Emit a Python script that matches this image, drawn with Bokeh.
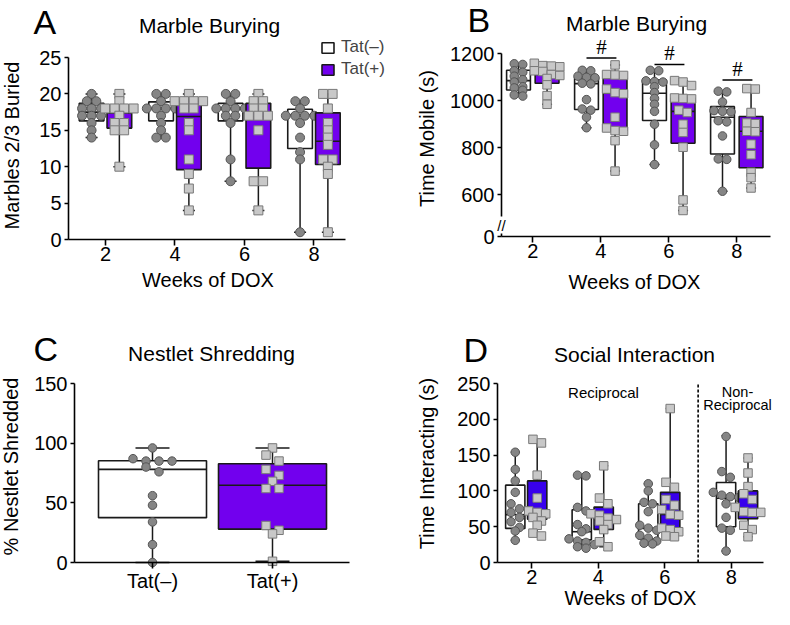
import math
from bokeh.plotting import figure
from bokeh.models import Range1d, FixedTicker, Legend, LegendItem, Label
from bokeh.layouts import row, column
from bokeh.embed import file_html
from bokeh.resources import INLINE

FONT = "Liberation Sans"

# ---------------- data ----------------
weeks = ["2", "4", "6", "8"]
genotypes = ["Tat(–)", "Tat(+)"]

# box stats: [min, Q1, median, Q3, max]
# Panel A: Marble burying, marbles 2/3 buried
A_neg_stats = [[14, 16.3, 17.5, 18.7, 20], [14, 16.3, 18.0, 18.9, 20],
               [8, 16.3, 18.0, 18.7, 20], [1, 12.5, 17.1, 17.9, 19]]
A_pos_stats = [[10, 15.3, 17.4, 17.5, 20], [4, 9.6, 16.9, 19.0, 20],
               [4, 9.8, 16.9, 18.7, 20], [1, 10.3, 13.5, 17.4, 20]]
A_neg_pts = [[20, 19, 19, 18, 18, 18, 17, 17, 17, 16, 15, 14],
             [20, 20, 19, 18, 18, 18, 18, 17, 16, 15, 14, 14],
             [20, 20, 19, 18, 18, 18, 18, 17, 17, 16, 11, 8],
             [19, 19, 18, 17, 17, 17, 17, 16, 14, 12, 11, 1]]
A_pos_pts = [[20, 19, 18, 18, 18, 18, 17, 16, 16, 15, 15, 10],
             [20, 19, 19, 19, 19, 18, 18, 16, 15, 11, 9, 7, 4],
             [20, 19, 19, 18, 18, 17, 17, 17, 15, 8, 8, 4],
             [20, 20, 18, 16, 15, 14, 13, 11, 11, 10, 9, 1]]

# Panel B: Marble burying, time mobile (s)
B_neg_stats = [[1020, 1046, 1086, 1130, 1158], [885, 963, 1073, 1100, 1130],
               [728, 916, 1032, 1089, 1130], [614, 773, 930, 975, 1040]]
B_pos_stats = [[985, 1075, 1112, 1140, 1160], [700, 873, 1032, 1096, 1153],
               [532, 819, 955, 1012, 1085], [628, 714, 870, 933, 1051]]
B_neg_pts = [[1158, 1155, 1128, 1122, 1105, 1090, 1080, 1060, 1055, 1045, 1025, 1020],
             [1130, 1128, 1105, 1100, 1098, 1075, 1072, 1005, 965, 960, 930, 885],
             [1130, 1128, 1085, 1082, 1080, 1060, 1035, 1010, 985, 955, 900, 812, 728],
             [1041, 1038, 995, 958, 955, 953, 915, 910, 850, 752, 750, 614]]
B_pos_pts = [[1160, 1150, 1148, 1145, 1128, 1125, 1112, 1108, 1095, 1068, 1022, 985],
             [1153, 1112, 1110, 1108, 1050, 1035, 1030, 930, 884, 873, 870, 830, 700],
             [1086, 1080, 1065, 1012, 1010, 1008, 960, 950, 900, 865, 802, 577, 532],
             [1052, 1050, 950, 905, 902, 870, 868, 815, 770, 695, 672, 628]]
B_sig_weeks = [1, 2, 3]          # indices of weeks 4, 6, 8
B_sig_y = [1183, 1155, 1089]

# Panel C: Nestlet shredding (%)
C_stats = [[0, 37.6, 78.0, 85.3, 96], [1, 28.0, 64.7, 82.8, 96]]
C_neg_pts = [96, 87, 85, 85, 85, 80, 76, 56, 48, 34, 15, 0]
C_pos_pts = [96, 90, 85, 78, 73, 68, 62, 62, 31, 27, 24, 1]

# Panel D: Social interaction, time interacting (s)
D_neg_stats = [[31, 47.6, 66.8, 108, 154], [20, 31.6, 43, 73.7, 121],
               [26, 33, 47.6, 82, 110], [16, 50, 89.7, 111.7, 177]]
D_pos_stats = [[37, 60.4, 67, 114, 170], [22, 46.2, 59, 77.4, 135],
               [36, 46.7, 67, 98, 215], [36, 61, 73, 100, 146]]
D_neg_pts = [[154, 130, 114, 98, 82, 75, 70, 63, 57, 49, 44, 31],
             [122, 121, 77, 72, 53, 47, 43, 33, 30, 28, 25, 22, 20],
             [110, 100, 84, 82, 71, 52, 48, 45, 38, 34, 30, 27, 26],
             [176, 127, 119, 98, 94, 92, 91, 82, 63, 48, 45, 16]]
D_pos_pts = [[172, 167, 122, 90, 72, 70, 68, 63, 58, 52, 41, 37],
             [135, 90, 82, 68, 66, 62, 60, 58, 53, 46, 29, 22],
             [215, 112, 105, 88, 80, 74, 67, 66, 48, 46, 43, 37, 36],
             [146, 125, 106, 96, 88, 77, 71, 70, 70, 52, 46, 36]]
D_divider = 2.5   # between reciprocal (2-6 wk) and non-reciprocal (8 wk)

# ---------------- style ----------------
PURPLE = "#7200EE"
BLUE = "#3800EC"
CIRC_FILL, CIRC_LINE = "#858585", "#555555"
SQ_FILL, SQ_LINE = "#C8C8C8", "#787878"
BOX_LINE = "#1a1a1a"


def spread(vals, yppu, xppu, spacing_px, thresh_px):
    """Horizontal offsets (data units) so that overlapping points sit side by side."""
    order = sorted(range(len(vals)), key=lambda i: -vals[i])
    rows = []
    for i in order:
        if rows and (vals[rows[-1][0]] - vals[i]) * yppu < thresh_px:
            rows[-1].append(i)
        else:
            rows.append([i])
    offs = [0.0] * len(vals)
    for r in rows:
        n = len(r)
        for k, i in enumerate(r):
            offs[i] = (k - (n - 1) / 2) * spacing_px / xppu
    return offs


def panel(PL, PT, W, H, OX, OY, xo, yo, xppu, yppu, xb, yb, xticks, xlabels, yticks, yover=None):
    """Frame covers the whole figure; axes are pinned at (xo, yo) with fixed_location."""
    xr = Range1d(xo - (OX - PL) / xppu, xo + (PL + W - OX) / xppu)
    yr = Range1d(yo - (PT + H - OY) / yppu, yo + (OY - PT) / yppu)
    p = figure(width=W, height=H, title=None, output_backend="svg", toolbar_location=None,
               x_range=xr, y_range=yr, min_border=0)
    p.outline_line_color = None
    p.xgrid.visible = False
    p.ygrid.visible = False
    p.xaxis.fixed_location = yo
    p.yaxis.fixed_location = xo
    for ax, ticks, b in ((p.xaxis[0], xticks, xb), (p.yaxis[0], yticks, yb)):
        ax.ticker = FixedTicker(ticks=ticks)
        ax.bounds = b
        ax.axis_line_width = 1.6
        ax.axis_line_color = "black"
        ax.major_tick_line_width = 1.6
        ax.major_tick_line_color = "black"
        ax.minor_tick_line_color = None
        ax.major_tick_in = 0
        ax.major_label_text_font = FONT
        ax.major_label_text_font_size = "20px"
        ax.major_label_text_color = "black"
    p.xaxis.major_tick_out = 6
    p.xaxis.major_label_standoff = 1
    p.yaxis.major_tick_out = 4
    p.yaxis.major_label_standoff = 3
    p.xaxis.major_label_overrides = {t: l for t, l in zip(xticks, xlabels)}
    if yover:
        p.yaxis.major_label_overrides = yover
    return p


def draw_boxes(p, centers, stats, pts, width, cap_px, fill, marker, mfill, mline,
               msize, xppu, yppu, spacing_px, thresh_px):
    lo = [s[0] for s in stats]
    q1 = [s[1] for s in stats]
    med = [s[2] for s in stats]
    q3 = [s[3] for s in stats]
    hi = [s[4] for s in stats]
    cw = cap_px / xppu
    p.segment(x0=centers, y0=lo, x1=centers, y1=q1, line_color=BOX_LINE, line_width=1.5)
    p.segment(x0=centers, y0=q3, x1=centers, y1=hi, line_color=BOX_LINE, line_width=1.5)
    p.segment(x0=[c - cw / 2 for c in centers], y0=lo, x1=[c + cw / 2 for c in centers], y1=lo,
              line_color=BOX_LINE, line_width=1.5)
    p.segment(x0=[c - cw / 2 for c in centers], y0=hi, x1=[c + cw / 2 for c in centers], y1=hi,
              line_color=BOX_LINE, line_width=1.5)
    r = p.vbar(x=centers, width=width, bottom=q1, top=q3, fill_color=fill,
               line_color=BOX_LINE, line_width=1.6)
    p.segment(x0=[c - width / 2 for c in centers], y0=med, x1=[c + width / 2 for c in centers],
              y1=med, line_color=BOX_LINE, line_width=1.6)
    xs, ys = [], []
    for c, vals in zip(centers, pts):
        offs = spread(vals, yppu, xppu, spacing_px, thresh_px)
        xs += [c + o for o in offs]
        ys += list(vals)
    p.scatter(x=xs, y=ys, marker=marker, size=msize, fill_color=mfill, line_color=mline,
              line_width=1)
    return r


def lbl(p, sx, sy, text, size, align="center", rotated=False):
    """Text label; (sx, sy) = wanted baseline point, in px from the figure's bottom-left."""
    corr = 0.4 * size if size < 30 else 0.3 * size   # observed baseline offset of the renderer
    if rotated:
        sx, ang = sx - corr, math.pi / 2
    else:
        sy, ang = sy + corr, 0.0
    p.add_layout(Label(x=sx, y=sy, x_units="screen", y_units="screen", text=text,
                       text_font=FONT, text_font_size=f"{size}px", text_align=align,
                       text_baseline="alphabetic", angle=ang, text_color="black"))


idx = list(range(len(weeks)))

# ---------------- Panel A ----------------
A_xppu, A_yppu = 69.5, 7.28
pA = panel(0, 0, 395, 300, 68, 239, -0.532, 0, A_xppu, A_yppu, (-0.532, 3.454), (0, 25),
           idx, weeks, [0, 5, 10, 15, 20, 25])
rA_neg = draw_boxes(pA, [i - 0.2 for i in idx], A_neg_stats, A_neg_pts, 0.355, 12, "white",
                    "circle", CIRC_FILL, CIRC_LINE, 9, A_xppu, A_yppu, 9.5, 6)
rA_pos = draw_boxes(pA, [i + 0.2 for i in idx], A_pos_stats, A_pos_pts, 0.355, 12, PURPLE,
                    "square", SQ_FILL, SQ_LINE, 9, A_xppu, A_yppu, 9.5, 6)
legA = Legend(items=[LegendItem(label=genotypes[0], renderers=[rA_neg]),
                     LegendItem(label=genotypes[1], renderers=[rA_pos])],
              location=(320, 221), orientation="vertical", background_fill_alpha=0,
              border_line_color=None, padding=0, margin=0, spacing=2,
              label_text_font=FONT, label_text_font_size="17px", glyph_width=15,
              glyph_height=13, label_standoff=6, label_height=20)
pA.add_layout(legA)
lbl(pA, 33, 268.3, "A", 34, align="left")
lbl(pA, 209, 266.7, "Marble Burying", 21)
lbl(pA, 207.5, 13, "Weeks of DOX", 20)
lbl(pA, 19, 155, "Marbles 2/3 Buried", 20, rotated=True)

# ---------------- Panel B ----------------
B_xppu, B_yppu = 68.0, 0.2344
B_y0 = 421
pB = panel(395, 0, 379, 300, 501, 236, -0.46, B_y0, B_xppu, B_yppu, (-0.46, 3.49),
           (B_y0, 1200), idx, weeks, [B_y0, 600, 800, 1000, 1200], yover={B_y0: "0"})
draw_boxes(pB, [i - 0.21 for i in idx], B_neg_stats, B_neg_pts, 0.35, 10, "white",
           "circle", CIRC_FILL, CIRC_LINE, 8.5, B_xppu, B_yppu, 8.5, 5)
draw_boxes(pB, [i + 0.21 for i in idx], B_pos_stats, B_pos_pts, 0.35, 10, PURPLE,
           "square", SQ_FILL, SQ_LINE, 8.5, B_xppu, B_yppu, 8.5, 5)
pB.segment(x0=[i - 0.21 for i in B_sig_weeks], y0=B_sig_y, x1=[i + 0.23 for i in B_sig_weeks],
           y1=B_sig_y, line_color="black", line_width=1.5)
pB.text(x=[i + 0.01 for i in B_sig_weeks], y=[v + 11 / B_yppu for v in B_sig_y],
        text=["#"] * len(B_sig_y), text_font=FONT, text_font_size="21px",
        text_align="center", text_baseline="alphabetic", text_color="black")
pB.add_layout(Label(x=-0.46, y=470, text="//", text_font=FONT, text_font_size="15px",
                    text_align="center", text_baseline="middle", background_fill_color="white",
                    text_color="black"))
lbl(pB, 72, 270.7, "B", 34, align="left")
lbl(pB, 241, 268.3, "Marble Burying", 21)
lbl(pB, 239, 11, "Weeks of DOX", 20)
lbl(pB, 39, 162, "Time Mobile (s)", 20, rotated=True)

# ---------------- Panel C ----------------
C_xppu, C_yppu = 120.0, 179 / 150
pC = panel(0, 300, 395, 309, 74, 562, -0.65, 0, C_xppu, C_yppu, (-0.65, 1.642), (0, 150),
           [0, 1], genotypes, [0, 50, 100, 150])
draw_boxes(pC, [0], [C_stats[0]], [C_neg_pts], 0.9, 34, "white",
           "circle", CIRC_FILL, CIRC_LINE, 8.5, C_xppu, C_yppu, 13, 6)
draw_boxes(pC, [1], [C_stats[1]], [C_pos_pts], 0.9, 34, PURPLE,
           "square", SQ_FILL, SQ_LINE, 8.5, C_xppu, C_yppu, 13, 6)
lbl(pC, 33, 250, "C", 34, align="left")
lbl(pC, 211, 248, "Nestlet Shredding", 21)
lbl(pC, 18, 143, "% Nestlet Shredded", 20, rotated=True)

# ---------------- Panel D ----------------
D_xppu, D_yppu = 66.5, 179 / 250
pD = panel(395, 300, 379, 309, 497, 562, -0.517, 0, D_xppu, D_yppu, (-0.517, 3.477), (0, 250),
           idx, weeks, [0, 50, 100, 150, 200, 250])
D_neg_off = [-0.25, -0.25, -0.25, -0.08]
D_pos_off = [0.08, 0.08, 0.08, 0.25]
draw_boxes(pD, [i + o for i, o in zip(idx, D_neg_off)], D_neg_stats, D_neg_pts, 0.29, 9,
           "white", "circle", CIRC_FILL, CIRC_LINE, 8.5, D_xppu, D_yppu, 8.5, 6)
draw_boxes(pD, [i + o for i, o in zip(idx, D_pos_off)], D_pos_stats, D_pos_pts, 0.29, 9,
           BLUE, "square", SQ_FILL, SQ_LINE, 8.5, D_xppu, D_yppu, 8.5, 6)
pD.segment(x0=[D_divider], y0=[0], x1=[D_divider], y1=[250], line_color="black",
           line_width=1.6, line_dash="3 2")
lbl(pD, 68, 249, "D", 34, align="left")
lbl(pD, 239, 247, "Social Interaction", 21)
lbl(pD, 235, 4, "Weeks of DOX", 20)
lbl(pD, 39, 146, "Time Interacting (s)", 20, rotated=True)
lbl(pD, 208, 211, "Reciprocal", 15)
lbl(pD, 342, 212, "Non-", 14.5)
lbl(pD, 342, 198.5, "Reciprocal", 14.5)

layout = column(row(pA, pB), row(pC, pD))
open("out.html", "w").write(file_html(layout, INLINE))
